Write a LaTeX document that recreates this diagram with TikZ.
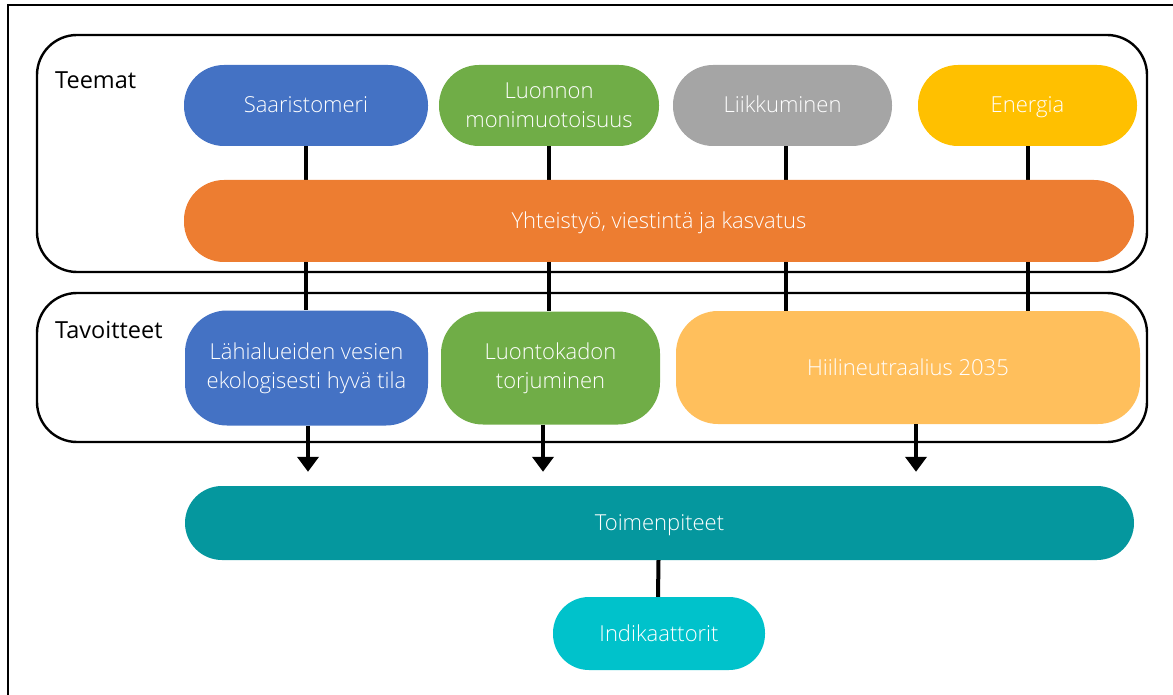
\documentclass[tikz,border=0pt]{standalone}
\usepackage{fontspec}
\setmainfont{Open Sans}
\newfontfamily\lightfont{Open Sans Light}
\usetikzlibrary{arrows.meta}
\definecolor{cblue}{HTML}{4472C4}
\definecolor{cgreen}{HTML}{70AD47}
\definecolor{cgray}{HTML}{A5A5A5}
\definecolor{cgold}{HTML}{FFC000}
\definecolor{corange}{HTML}{ED7D31}
\definecolor{clorange}{HTML}{FFBF5C}
\definecolor{cteal}{HTML}{05979E}
\definecolor{ccyan}{HTML}{00C2CB}
\tikzset{
  box/.style={draw=none, text=white, align=center, inner sep=0pt,
    font=\lightfont\fontsize{22}{29}\selectfont},
  oneline/.style={text height=17.5pt, text depth=2.5pt},
  container/.style={draw=black, line width=2.4pt, rounded corners=40pt},
  grouplabel/.style={anchor=west, inner sep=0pt, font=\fontsize{23.5}{28}\selectfont},
  link/.style={line width=4pt},
  flow/.style={line width=4pt, -{Triangle[width=21pt,length=15pt]}},
}
\begin{document}
\begin{tikzpicture}[x=1pt,y=-1pt]
\useasboundingbox (0,0) rectangle (1173,695);
\begin{scope}
\clip (0,0) rectangle (1173,695);
\draw[line width=2pt] (8,5) rectangle (1200,720);
\end{scope}
% containers
\draw[container] (37,35) rectangle (1147,272);
\draw[container] (37,293) rectangle (1147,442);
\node[grouplabel] (teemat) at (55,80) {Teemat};
\node[grouplabel] (tavoitteet) at (55,330) {Tavoitteet};
% themes
\node[box, oneline, fill=cblue, minimum width=244pt, minimum height=81pt, rounded corners=40pt] (saar) at (306,105.5) {Saaristomeri};
\node[box, fill=cgreen, minimum width=220pt, minimum height=81pt, rounded corners=40pt] (luo) at (549,105.5) {Luonnon\\monimuotoisuus};
\node[box, oneline, fill=cgray, minimum width=219pt, minimum height=81pt, rounded corners=40pt] (liik) at (782.5,105.5) {Liikkuminen};
\node[box, oneline, fill=cgold, minimum width=219pt, minimum height=81pt, rounded corners=40pt] (ener) at (1027.5,105.5) {Energia};
% goals
\node[box, fill=cblue, minimum width=243pt, minimum height=115pt, rounded corners=42pt] (lah) at (306.5,368) {Lähialueiden vesien\\ekologisesti hyvä tila};
\node[box, fill=cgreen, minimum width=219pt, minimum height=113pt, rounded corners=42pt] (luok) at (550.5,368) {Luontokadon\\torjuminen};
\node[box, oneline, fill=clorange, minimum width=464pt, minimum height=113pt, rounded corners=42pt] (hiili) at (908,367.5) {Hiilineutraalius 2035};
% links (behind the orange bar)
\draw[link] (saar.south) -- (saar.south |- lah.north);
\draw[link] (luo.south) -- (luo.south |- luok.north);
\draw[link] ([xshift=3.5pt]liik.south) -- ([xshift=3.5pt]liik.south |- hiili.north);
\draw[link] ([xshift=0.5pt]ener.south) -- ([xshift=0.5pt]ener.south |- hiili.north);
\node[box, oneline, fill=corange, minimum width=950pt, minimum height=82pt, rounded corners=40pt] (yht) at (659,221) {Yhteistyö, viestintä ja kasvatus};
% measures
\node[box, oneline, fill=cteal, minimum width=949pt, minimum height=74pt, rounded corners=37pt] (toim) at (659.5,523) {Toimenpiteet};
\node[box, oneline, fill=ccyan, minimum width=212pt, minimum height=73pt, rounded corners=36pt] (indik) at (659,633.5) {Indikaattorit};
\draw[flow, shorten >=14pt] ([xshift=1.5pt]lah.south) -- ([xshift=1.5pt]lah.south |- toim.north);
\draw[flow, shorten >=14pt] ([xshift=-7.5pt]luok.south) -- ([xshift=-7.5pt]luok.south |- toim.north);
\draw[flow, shorten >=14pt] ([xshift=8pt]hiili.south) -- ([xshift=8pt]hiili.south |- toim.north);
\draw[link] ([xshift=-1pt]toim.south) -- ([xshift=-1pt]indik.north);
\end{tikzpicture}
\end{document}
